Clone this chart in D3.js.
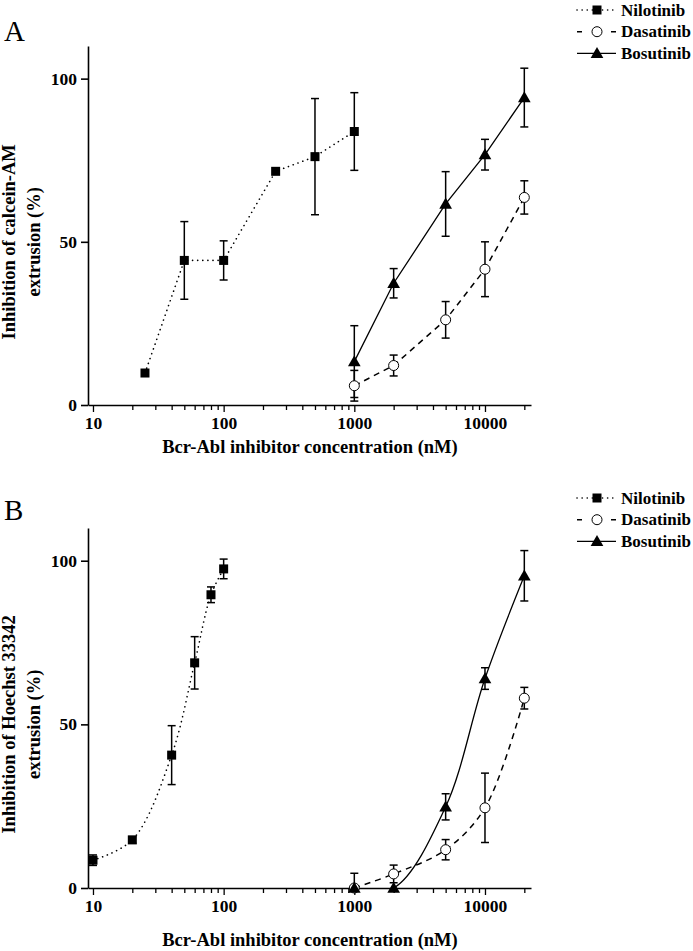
<!DOCTYPE html>
<html><head><meta charset="utf-8">
<script src="https://cdn.jsdelivr.net/npm/d3@7"></script>
<style>
html,body{margin:0;padding:0;background:#fff;}
svg{display:block;font-family:"Liberation Serif","Times New Roman",serif;}
</style></head>
<body>
<script>
// ---------- DATA ----------
const seriesNames = ["Nilotinib", "Dasatinib", "Bosutinib"];
const majorTicks = [10, 100, 1000, 10000];
const minorTicks = [20,30,40,50,60,70,80,90,200,300,400,500,600,700,800,900,2000,3000,4000,5000,6000,7000,8000,9000,20000];
const yTicks = [0, 50, 100];

// Panel A: calcein-AM
const concA_nil = [25, 50, 100, 250, 500, 1000];
const valA_nil  = [9.8, 44.3, 44.3, 71.6, 76.1, 83.8];
const sdA_nil   = [0, 11.9, 6.0, 0, 17.8, 11.9];
const concA_das = [1000, 2000, 5000, 10000, 20000];
const valA_das  = [5.9, 12.1, 26.1, 41.6, 63.6];
const sdA_das   = [4.7, 3.2, 5.6, 8.4, 5.1];
const concA_bos = [1000, 2000, 5000, 10000, 20000];
const valA_bos  = [13.3, 37.3, 61.6, 76.7, 94.2];
const sdA_bos   = [11.0, 4.5, 9.9, 4.7, 9.0];

// Panel B: Hoechst 33342
const concB_nil = [10, 20, 40, 60, 80, 100];
const valB_nil  = [8.5, 14.7, 40.6, 68.8, 89.6, 97.5];
const sdB_nil   = [1.6, 1.0, 9.0, 8.0, 2.4, 3.0];
const concB_das = [1000, 2000, 5000, 10000, 20000];
const valB_das  = [0, 4.3, 11.7, 24.5, 58.0];
const sdB_das   = [4.5, 2.7, 3.1, 10.6, 3.3];
const concB_bos = [1000, 2000, 5000, 10000, 20000];
const valB_bos  = [0, 0, 24.8, 64.0, 95.4];
const sdB_bos   = [0, 0, 4.0, 3.3, 7.7];

const zip = (c, v, s) => c.map((x, i) => ({x, y: v[i], sd: s[i]}));

const svg = d3.select("body").append("svg").attr("width", 693).attr("height", 951);

const styles = {
  Nilotinib: {dash: "0.1,5", width: 1.6, cap: "round", marker: "square"},
  Dasatinib: {dash: "6,5", width: 1.5, cap: "butt", marker: "circle"},
  Bosutinib: {dash: null, width: 1.3, cap: "butt", marker: "triangle"}
};

function drawMarker(g, type, x, y) {
  if (type === "square") {
    g.append("rect").attr("x", x - 4.5).attr("y", y - 4.5).attr("width", 9).attr("height", 9).attr("fill", "#000");
  } else if (type === "circle") {
    g.append("circle").attr("cx", x).attr("cy", y).attr("r", 5).attr("fill", "#fff").attr("stroke", "#000").attr("stroke-width", 1);
  } else {
    g.append("path").attr("d", d3.symbol().type(d3.symbolTriangle).size(70)()).attr("transform", `translate(${x},${y + 1})`).attr("fill", "#000");
  }
}

function drawPanel(cfg) {
  const x = d3.scaleLog().domain([9.16, 22500]).range([88, 531]);
  const y = d3.scaleLinear().domain([0, 110]).range([cfg.y0, cfg.yTop]);
  const g = svg.append("g");

  const clipId = "clip" + cfg.letter;
  svg.append("defs").append("clipPath").attr("id", clipId).append("rect")
    .attr("x", 0).attr("y", 0).attr("width", 693).attr("height", cfg.y0);

  // panel letter
  g.append("text").attr("x", 4).attr("y", cfg.letterY).attr("font-size", 29).text(cfg.letter);

  // y axis
  const yAx = g.append("g").attr("transform", "translate(88,0)")
    .call(d3.axisLeft(y).tickValues(yTicks).tickSize(7).tickSizeOuter(0).tickPadding(4));
  yAx.select(".domain").attr("stroke-width", 1.6);
  yAx.selectAll(".tick line").attr("stroke-width", 1.6);
  yAx.selectAll("text").attr("font-size", 17.5).attr("font-weight", "bold").attr("font-family", "Liberation Serif, serif").attr("fill", "#000");

  // axis titles
  const yc = (y(0) + y(100)) / 2;
  g.append("text").attr("transform", `translate(15,${yc}) rotate(-90)`).attr("text-anchor", "middle")
    .attr("font-size", 18.5).attr("font-weight", "bold").text(cfg.yTitle1);
  g.append("text").attr("transform", `translate(40,${yc}) rotate(-90)`).attr("text-anchor", "middle")
    .attr("font-size", 18.5).attr("font-weight", "bold").text(cfg.yTitle2);
  g.append("text").attr("x", 310).attr("y", cfg.xTitleY).attr("text-anchor", "middle")
    .attr("font-size", 18.5).attr("font-weight", "bold").text("Bcr-Abl inhibitor concentration (nM)");

  // series lines
  const lines = g.append("g").attr("clip-path", `url(#${clipId})`);
  cfg.series.forEach(s => {
    const st = styles[s.name];
    const line = d3.line().x(d => x(d.x)).y(d => y(d.y)).curve(cfg.curve);
    lines.append("path").datum(s.data).attr("d", line).attr("fill", "none").attr("stroke", "#000")
      .attr("stroke-width", st.width).attr("stroke-dasharray", st.dash).attr("stroke-linecap", st.cap);
  });

  // x axis
  const xAx = g.append("g").attr("transform", `translate(0,${cfg.y0})`)
    .call(d3.axisBottom(x).tickValues(majorTicks.concat(minorTicks)).tickSize(6).tickSizeOuter(0)
      .tickFormat(d => majorTicks.includes(d) ? d3.format("d")(d) : "").tickPadding(6));
  xAx.select(".domain").attr("stroke-width", 1.6);
  xAx.selectAll(".tick line").attr("stroke-width", 1.3).attr("y2", d => majorTicks.includes(d) ? 7 : 5);
  xAx.selectAll("text").attr("font-size", 17.5).attr("font-weight", "bold").attr("font-family", "Liberation Serif, serif").attr("fill", "#000");

  // error bars
  cfg.series.forEach(s => {
    s.data.forEach(d => {
      if (!d.sd) return;
      const cx = x(d.x);
      const hi = d.y + d.sd, lo = Math.max(0, d.y - d.sd);
      g.append("line").attr("x1", cx).attr("x2", cx).attr("y1", y(hi)).attr("y2", y(lo)).attr("stroke", "#000").attr("stroke-width", 1.5);
      g.append("line").attr("x1", cx - 4).attr("x2", cx + 4).attr("y1", y(hi)).attr("y2", y(hi)).attr("stroke", "#000").attr("stroke-width", 1.5);
      if (d.y - d.sd >= 0)
        g.append("line").attr("x1", cx - 4).attr("x2", cx + 4).attr("y1", y(lo)).attr("y2", y(lo)).attr("stroke", "#000").attr("stroke-width", 1.5);
    });
  });
  // markers
  cfg.series.forEach(s => {
    const st = styles[s.name];
    s.data.forEach(d => drawMarker(g, st.marker, x(d.x), y(d.y)));
  });

  // legend
  seriesNames.forEach((name, i) => {
    const st = styles[name];
    const ly = cfg.legendY + i * 21.7;
    g.append("line").attr("x1", 577).attr("x2", 616).attr("y1", ly).attr("y2", ly).attr("stroke", "#000")
      .attr("stroke-width", st.width).attr("stroke-dasharray", name === "Dasatinib" ? "5,29" : st.dash)
      .attr("stroke-linecap", st.cap);
    drawMarker(g, st.marker, 597, ly);
    g.append("text").attr("x", 621).attr("y", ly + 5.5).attr("font-size", 17).attr("font-weight", "bold").text(name);
  });
}

drawPanel({
  letter: "A", letterY: 41, y0: 405, yTop: 46, xTitleY: 453, legendY: 10,
  yTitle1: "Inhibition of calcein-AM", yTitle2: "extrusion (%)", curve: d3.curveLinear,
  series: [
    {name: "Nilotinib", data: zip(concA_nil, valA_nil, sdA_nil)},
    {name: "Dasatinib", data: zip(concA_das, valA_das, sdA_das)},
    {name: "Bosutinib", data: zip(concA_bos, valA_bos, sdA_bos)}
  ]
});
drawPanel({
  letter: "B", letterY: 520, y0: 888, yTop: 528, xTitleY: 946, legendY: 498,
  yTitle1: "Inhibition of Hoechst 33342", yTitle2: "extrusion (%)", curve: d3.curveCatmullRom,
  series: [
    {name: "Nilotinib", data: zip(concB_nil, valB_nil, sdB_nil)},
    {name: "Dasatinib", data: zip(concB_das, valB_das, sdB_das)},
    {name: "Bosutinib", data: zip(concB_bos, valB_bos, sdB_bos)}
  ]
});
</script>
</body></html>
